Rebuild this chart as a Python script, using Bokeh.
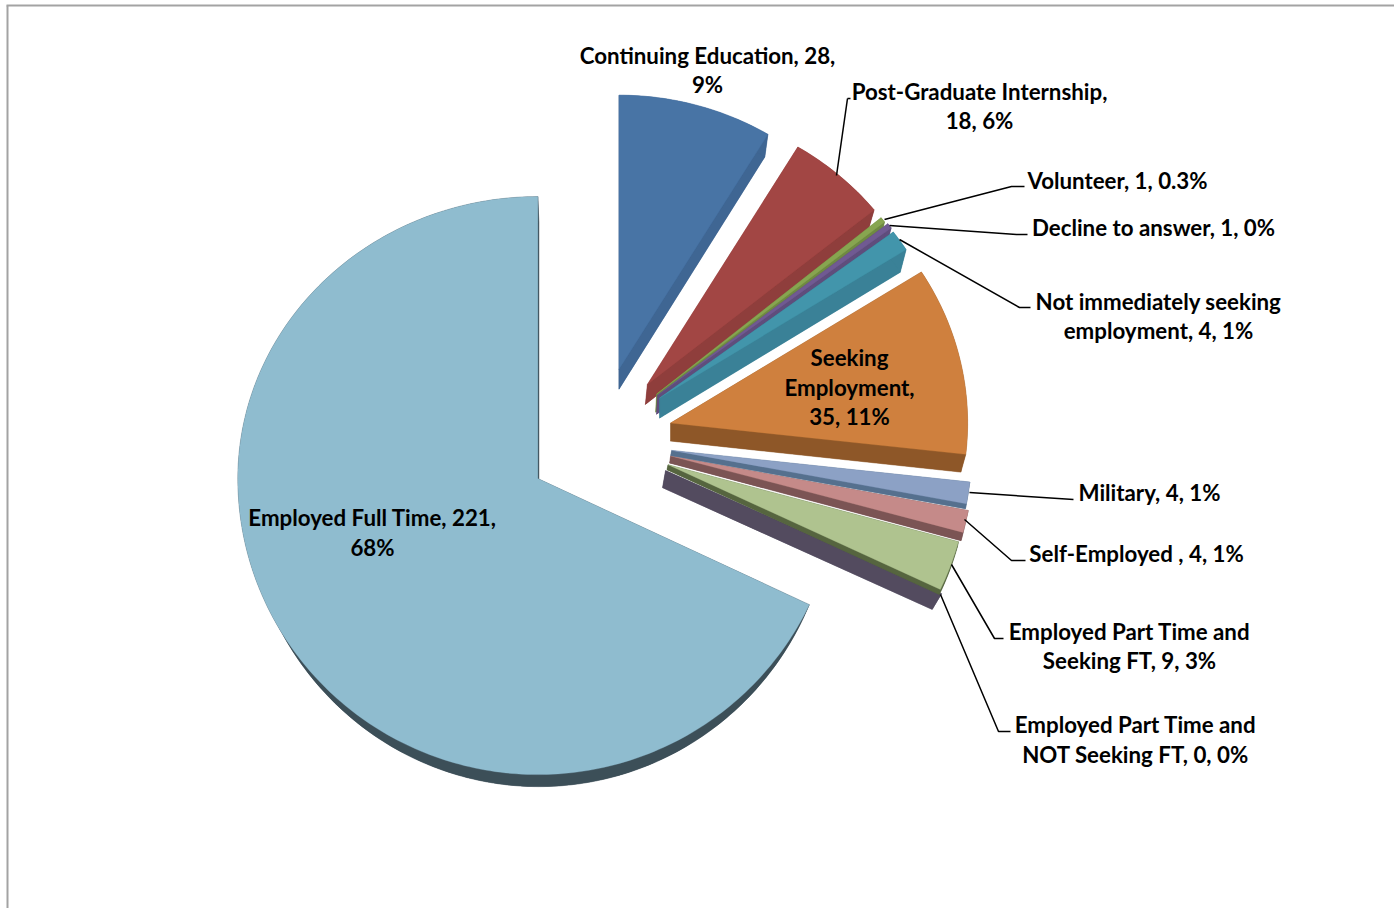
import math
from bokeh.plotting import figure
from bokeh.models import Range1d
from bokeh.core.properties import value
from bokeh.embed import file_html
from bokeh.resources import INLINE

# ---- data ----
categories = ["Continuing Education", "Post-Graduate Internship", "Volunteer", "Decline to answer",
              "Not immediately seeking employment", "Seeking Employment", "Military", "Self-Employed",
              "Employed Part Time and Seeking FT", "Employed Part Time and NOT Seeking FT", "Employed Full Time"]
counts = [28, 18, 1, 1, 4, 35, 4, 4, 9, 0, 221]
label_lines = [["Continuing Education, 28,", "9%"],
               ["Post-Graduate Internship,", "18, 6%"],
               ["Volunteer, 1, 0.3%"],
               ["Decline to answer, 1, 0%"],
               ["Not immediately seeking", "employment, 4, 1%"],
               ["Seeking", "Employment,", "35, 11%"],
               ["Military, 4, 1%"],
               ["Self-Employed , 4, 1%"],
               ["Employed Part Time and", "Seeking FT, 9, 3%"],
               ["Employed Part Time and", "NOT Seeking FT, 0, 0%"],
               ["Employed Full Time, 221,", "68%"]]

# ---- styling ----
top_colors = ["#4874A5", "#A24644", "#87A550", "#705A92", "#4295AB", "#CF803E",
              "#8CA1C5", "#C58A89", "#AFC38F", "#534B5F", "#8FBCCF"]
side_colors = ["#3F6693", "#8F3E3C", "#6F8A42", "#5F4D7C", "#3A8197", "#8E5728",
               "#55708E", "#7B5454", "#56653F", "#534B5F", "#3C4F58"]
# perspective-like size of each slice:
# (rx, ry above, ry below, depth dx, depth dy, lower rx, lower ry above, lower ry below)
shape = [(289, 274, 274, 0, 20, 283, 271, 271),
         (292, 277, 277, -2, 20, 287, 277, 277),
         (289, 280, 280, -1, 18, 284, 276, 276),
         (292, 279, 279, -1, 19, 286, 275, 275),
         (292, 277, 277, 0, 20, 285, 272, 272),
         (297, 282, 282, 0, 18, 292, 280, 280),
         (300, 285, 285, -1, 5, 300, 285, 285),
         (303, 291, 291, -1, 7, 302, 296, 296),
         (301, 293, 293, -1, 5, 301, 293, 293),
         (305, 289, 289, -3, 17, 298, 286, 286),
         (300, 282, 296, 1, 12, 293, 268, 296)]
label_xy = [(708, 56, 29), (980, 92, 29), (1118, 181, 29), (1154, 228, 29), (1159, 302, 29), (850, 358, 29.5),
            (1150, 493, 29), (1137, 554, 29), (1130, 632, 29), (1136, 725, 30), (373, 518, 30)]
leaders = [([848, 851], [99, 99]),
           ([837, 848], [176, 99]),
           ([885, 1012, 1025], [220, 187, 187]),
           ([890, 1017, 1028], [226, 235, 235]),
           ([900, 1020, 1031], [240, 308, 308]),
           ([970, 1074], [493, 500]),
           ([965, 1012, 1026], [520, 561, 561]),
           ([952, 995, 1004], [565, 639, 639]),
           ([941, 999, 1011], [595, 732, 732])]
CX, CY, EXPLODE = 600, 440, 73
FONT = "Lato"
FONT_PX = "22.3px"

PX, PY, W, H = 1, 1, 1394, 908
p = figure(width=W, height=H, x_range=Range1d(PX, PX + W), y_range=Range1d(PY + H, PY),
           x_axis_type=None, y_axis_type=None, toolbar_location=None, output_backend="svg",
           min_border=0, outline_line_color=None)
p.grid.visible = False
p.background_fill_color = "white"
p.border_fill_color = "white"

p.line([8, 8], [6, 910], line_color="#A3A3A3", line_width=2)
p.line([7, 1395], [6, 6], line_color="#A3A3A3", line_width=2)


def point(ax, ay, rx, ru, rd, deg):
    t = math.radians(deg)
    c = math.cos(t)
    return ax + rx * math.sin(t), ay - c * (ru if c > 0 else rd)


def arc(ax, ay, rx, ru, rd, a0, a1):
    n = max(2, int((a1 - a0) / 1.0) + 2)
    return [point(ax, ay, rx, ru, rd, a0 + (a1 - a0) * i / (n - 1)) for i in range(n)]


def fill(pts, color):
    xs = [q[0] for q in pts]
    ys = [q[1] for q in pts]
    p.patch(xs, ys, fill_color=color, line_color=color, line_width=0.3)


total = sum(counts)
angles = []
start = 0.0
for c in counts:
    angles.append((start, start + c / total * 360))
    start += c / total * 360

# full-time slice first, then back to front; the empty slice before the one above it
order = [0, 1, 2, 3, 4, 5, 9, 10, 8, 7, 6]
for i in order:
    a0, a1 = angles[i]
    mid = math.radians((a0 + a1) / 2)
    ax = CX + EXPLODE * math.sin(mid)
    ay = CY - EXPLODE * math.cos(mid)
    rx, ru, rd, dx, dy, rx2, ru2, rd2 = shape[i]
    bx, by = ax + dx, ay + dy
    top = arc(ax, ay, rx, ru, rd, a0, a1)
    low = arc(bx, by, rx2, ru2, rd2, a0, a1)
    # side faces: lower surface, the two radial walls, the outer wall
    fill([(bx, by)] + low, side_colors[i])
    fill([(ax, ay), (bx, by), low[0], top[0]], side_colors[i])
    fill([(ax, ay), (bx, by), low[-1], top[-1]], side_colors[i])
    fill(top + low[::-1], side_colors[i])
    if counts[i] > 0:
        fill([(ax, ay)] + top, top_colors[i])

for xs, ys in leaders:
    p.line(xs, ys, line_color="black", line_width=1.5)

for lines, (x, y, lh) in zip(label_lines, label_xy):
    for k, s in enumerate(lines):
        p.text([x], [y + k * lh], text=[s], text_font=value(FONT), text_font_size=value(FONT_PX),
               text_font_style="bold", text_color="black", text_align="center", text_baseline="middle")

open("out.html", "w").write(file_html(p, INLINE))
